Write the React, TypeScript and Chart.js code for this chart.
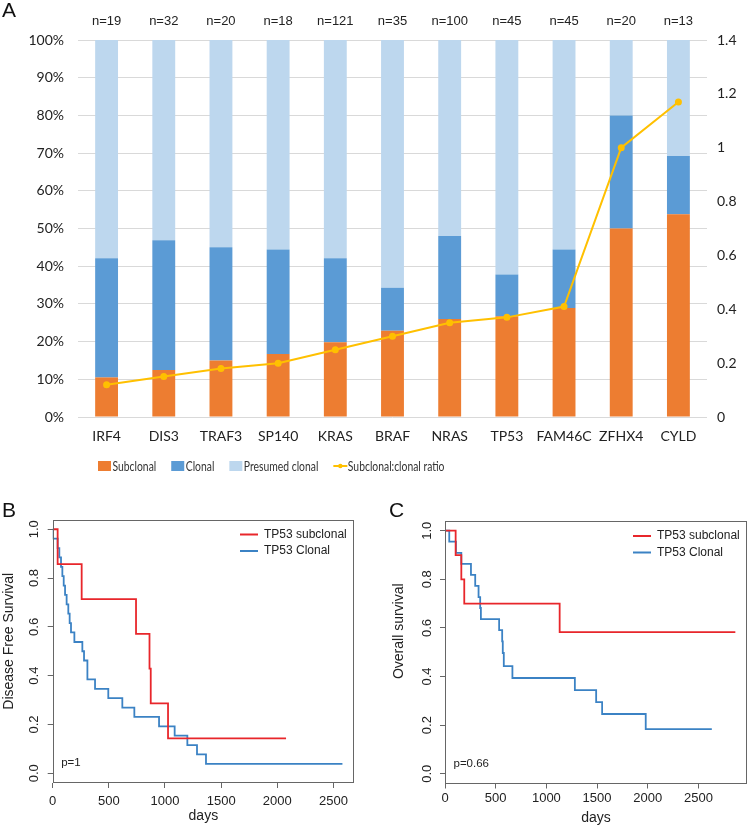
import React, { useEffect, useRef } from 'react';
import { Chart, registerables } from 'chart.js';

Chart.register(...registerables);

// ---------- Panel A data ----------
const genes = ['IRF4', 'DIS3', 'TRAF3', 'SP140', 'KRAS', 'BRAF', 'NRAS', 'TP53', 'FAM46C', 'ZFHX4', 'CYLD'];
const nLabels = ['n=19', 'n=32', 'n=20', 'n=18', 'n=121', 'n=35', 'n=100', 'n=45', 'n=45', 'n=20', 'n=13'];
const subclonalPct = [10.5, 12.5, 15.0, 16.7, 19.8, 22.9, 26.0, 26.7, 28.9, 50.0, 53.8];
const clonalPct = [31.6, 34.4, 30.0, 27.7, 22.3, 11.4, 22.0, 11.1, 15.5, 30.0, 15.4];
const presumedPct = [57.9, 53.1, 55.0, 55.6, 57.9, 65.7, 52.0, 62.2, 55.6, 20.0, 30.8];
const ratioValues = [0.12, 0.15, 0.18, 0.2, 0.25, 0.3, 0.35, 0.37, 0.41, 1.0, 1.17];
const seriesNames = ['Subclonal', 'Clonal', 'Presumed clonal', 'Subclonal:clonal ratio'];

// ---------- Panel B data (disease free survival) ----------
const dfsSubDays = [0, 44, 258, 742, 862, 873, 1027, 2078];
const dfsSubSurv = [1, 0.857, 0.714, 0.571, 0.429, 0.286, 0.143, 0.143];
const dfsClonDays = [0, 3, 44, 59, 74, 86, 98, 110, 124, 139, 151, 163, 193, 264, 279, 309, 377, 495, 620, 727, 947, 1086, 1199, 1285, 1365, 2580];
const dfsClonSurv = [1, 0.962, 0.923, 0.885, 0.846, 0.808, 0.769, 0.731, 0.692, 0.654, 0.615, 0.577, 0.538, 0.5, 0.462, 0.385, 0.346, 0.308, 0.269, 0.231, 0.192, 0.154, 0.115, 0.077, 0.038, 0.038];

// ---------- Panel C data (overall survival) ----------
const osSubDays = [0, 105, 161, 190, 1131, 2864];
const osSubSurv = [1, 0.9, 0.8, 0.7, 0.583, 0.583];
const osClonDays = [0, 42, 108, 161, 256, 298, 331, 347, 354, 534, 564, 570, 580, 665, 1281, 1491, 1550, 1980, 2632];
const osClonSurv = [1, 0.955, 0.909, 0.864, 0.818, 0.773, 0.727, 0.682, 0.636, 0.591, 0.545, 0.497, 0.443, 0.394, 0.344, 0.295, 0.246, 0.184, 0.184];

const kmXTicks = [0, 500, 1000, 1500, 2000, 2500];
const kmYTicks = [0, 0.2, 0.4, 0.6, 0.8, 1.0];
const kmSeriesNames = ['TP53 subclonal', 'TP53 Clonal'];

// ---------- styles ----------
const ORANGE = '#ED7D31';
const BLUE_A = '#5B9BD5';
const LIGHT_BLUE = '#BDD7EE';
const GOLD = '#FFC000';
const KM_RED = '#E8262B';
const KM_BLUE = '#3B82C4';
const AXIS_GRAY = '#666666';
const FONT_A = "Lato, 'Open Sans', sans-serif";
const FONT_R = "'Liberation Sans', Arial, Helvetica, sans-serif";

const legendA = {
  id: 'legendA',
  afterDraw(chart: any, _args: any, opts: any) {
    const { ctx } = chart;
    ctx.save();
    ctx.font = opts.font;
    ctx.textBaseline = 'middle';
    ctx.textAlign = 'left';
    let x = opts.x;
    const y = opts.y;
    chart.data.datasets.forEach((ds: any) => {
      if (ds.type === 'line') {
        ctx.strokeStyle = ds.borderColor;
        ctx.lineWidth = 2;
        ctx.beginPath();
        ctx.moveTo(x, y);
        ctx.lineTo(x + 14, y);
        ctx.stroke();
        ctx.fillStyle = ds.borderColor;
        ctx.beginPath();
        ctx.arc(x + 7, y, 2.2, 0, Math.PI * 2);
        ctx.fill();
      } else {
        ctx.fillStyle = ds.backgroundColor;
        ctx.fillRect(x, y - 5, 13, 10);
      }
      x += 14.5;
      ctx.fillStyle = '#333';
      ctx.save();
      ctx.translate(x, y + 0.5);
      ctx.scale(opts.squeeze, 1);
      ctx.fillText(ds.label, 0, 0);
      ctx.restore();
      x += ctx.measureText(ds.label).width * opts.squeeze + 15;
    });
    ctx.restore();
  },
};

function buildPanelA(): any {
  const axisFont = { family: FONT_A, size: 14 };
  return {
    type: 'bar',
    data: {
      labels: genes,
      datasets: [
        { label: seriesNames[0], data: subclonalPct, backgroundColor: ORANGE, borderWidth: 0, order: 1 },
        { label: seriesNames[1], data: clonalPct, backgroundColor: BLUE_A, borderWidth: 0, order: 1 },
        { label: seriesNames[2], data: presumedPct, backgroundColor: LIGHT_BLUE, borderWidth: 0, order: 1 },
        {
          type: 'line',
          label: seriesNames[3],
          data: ratioValues,
          yAxisID: 'y1',
          borderColor: GOLD,
          backgroundColor: GOLD,
          pointBackgroundColor: GOLD,
          pointBorderColor: GOLD,
          borderWidth: 2,
          pointRadius: 2.5,
          tension: 0,
          order: 0,
        },
      ],
    },
    options: {
      animation: false,
      responsive: false,
      datasets: { bar: { barPercentage: 0.4, categoryPercentage: 1 } },
      layout: { padding: 0 },
      plugins: {
        tooltip: { enabled: false },
        legend: { display: false },
        legendA: { x: 98, y: 466, font: `14px ${FONT_A}`, squeeze: 0.74 },
      },
      scales: {
        x: {
          stacked: true,
          grid: { display: false, drawTicks: false },
          border: { display: false },
          ticks: { color: '#222', font: axisFont, padding: 11, maxRotation: 0, minRotation: 0, autoSkip: false },
          afterFit: (s: any) => { s.height = 73; },
        },
        xTop: {
          type: 'category',
          position: 'top',
          labels: nLabels,
          offset: true,
          grid: { display: false, drawTicks: false },
          border: { display: false },
          ticks: { color: '#222', font: { family: FONT_R, size: 13 }, padding: 11, maxRotation: 0, minRotation: 0, autoSkip: false },
          afterFit: (s: any) => { s.height = 40; },
        },
        y: {
          stacked: true,
          min: 0,
          max: 100,
          ticks: { stepSize: 10, callback: (v: any) => v + '%', color: '#222', font: axisFont, padding: 14 },
          grid: { color: '#D9D9D9', drawTicks: false },
          border: { display: false },
          afterFit: (s: any) => { s.width = 78; },
        },
        y1: {
          position: 'right',
          min: 0,
          max: 1.4,
          ticks: {
            stepSize: 0.2,
            color: '#222',
            font: axisFont,
            padding: 10,
            callback: (v: any) => String(Math.round(Number(v) * 10) / 10),
          },
          grid: { display: false, drawTicks: false },
          border: { display: false },
          afterFit: (s: any) => { s.width = 41; },
        },
      },
    },
    plugins: [legendA],
  };
}

const kmDecor = {
  id: 'kmDecor',
  afterDraw(chart: any, _args: any, opts: any) {
    const { ctx, chartArea: a } = chart;
    ctx.save();
    ctx.strokeStyle = AXIS_GRAY;
    ctx.lineWidth = 1;
    const l = Math.round(a.left) + 0.5;
    const t = Math.round(a.top) + 0.5;
    const r = Math.round(a.right) - 0.5;
    const b = Math.round(a.bottom) - 0.5;
    ctx.strokeRect(l, t, r - l, b - t);
    // legend
    ctx.font = `12px ${FONT_R}`;
    ctx.textBaseline = 'middle';
    ctx.textAlign = 'left';
    chart.data.datasets.forEach((ds: any, i: number) => {
      const y = a.top + opts.legendTop + i * opts.legendGap;
      ctx.strokeStyle = ds.borderColor;
      ctx.lineWidth = 2;
      ctx.beginPath();
      ctx.moveTo(a.right - opts.lineStart, y);
      ctx.lineTo(a.right - opts.lineEnd, y);
      ctx.stroke();
      ctx.fillStyle = '#222';
      ctx.fillText(ds.label, a.right - opts.textStart, y);
    });
    // p value
    ctx.font = `11.5px ${FONT_R}`;
    ctx.fillStyle = '#222';
    ctx.fillText(opts.pText, a.left + opts.pX, a.bottom - opts.pY);
    // y title
    ctx.font = `14px ${FONT_R}`;
    ctx.textAlign = 'center';
    ctx.translate(opts.titleX, (a.top + a.bottom) / 2 + opts.titleShift);
    ctx.rotate(-Math.PI / 2);
    ctx.fillText(opts.yTitle, 0, 0);
    ctx.restore();
  },
};

function buildKM(p: {
  subDays: number[]; subSurv: number[]; clonDays: number[]; clonSurv: number[];
  xMax: number; yTitle: string; pText: string; padLeft: number; padTop: number; padRight: number;
  yWidth: number; xHeight: number; xLabelPad: number; xTitlePad: number; yLabelPad: number;
  titleX: number; titleShift: number;
}): any {
  const pts = (d: number[], s: number[]) => d.map((x, i) => ({ x, y: s[i] }));
  const tickFont = { family: FONT_R, size: 13 };
  return {
    type: 'line',
    data: {
      datasets: [
        { label: kmSeriesNames[0], data: pts(p.subDays, p.subSurv), borderColor: KM_RED, borderWidth: 1.8, stepped: true, pointRadius: 0, fill: false },
        { label: kmSeriesNames[1], data: pts(p.clonDays, p.clonSurv), borderColor: KM_BLUE, borderWidth: 1.8, stepped: true, pointRadius: 0, fill: false },
      ],
    },
    options: {
      animation: false,
      responsive: false,
      layout: { padding: { left: p.padLeft, top: p.padTop, right: p.padRight, bottom: 0 } },
      plugins: {
        legend: { display: false },
        tooltip: { enabled: false },
        kmDecor: {
          legendTop: 15, legendGap: 16.5, lineStart: 114, lineEnd: 96, textStart: 90,
          pText: p.pText, pX: 8.5, pY: 20, yTitle: p.yTitle, titleX: p.titleX, titleShift: p.titleShift,
        },
      },
      scales: {
        x: {
          type: 'linear',
          min: 0,
          max: p.xMax,
          afterBuildTicks: (s: any) => { s.ticks = kmXTicks.map((value) => ({ value })); },
          ticks: { color: '#222', font: tickFont, padding: p.xLabelPad, maxRotation: 0, minRotation: 0, callback: (v: any) => String(v) },
          grid: { display: true, drawOnChartArea: false, drawTicks: true, tickLength: 5, color: AXIS_GRAY },
          border: { display: false },
          title: { display: true, text: 'days', color: '#222', font: { family: FONT_R, size: 14 }, padding: { top: 0, bottom: p.xTitlePad } },
          afterFit: (s: any) => { s.height = p.xHeight; },
        },
        y: {
          type: 'linear',
          min: -0.04,
          max: 1.04,
          afterBuildTicks: (s: any) => { s.ticks = kmYTicks.map((value) => ({ value })); },
          ticks: { color: '#222', font: tickFont, padding: p.yLabelPad, minRotation: 90, maxRotation: 90, crossAlign: 'center', callback: (v: any) => Number(v).toFixed(1) },
          grid: { display: true, drawOnChartArea: false, drawTicks: true, tickLength: 5, color: AXIS_GRAY },
          border: { display: false },
          afterFit: (s: any) => { s.width = p.yWidth; },
        },
      },
    },
    plugins: [kmDecor],
  };
}

function ChartCanvas(props: { width: number; height: number; left: number; top: number; build: () => any }) {
  const ref = useRef<HTMLCanvasElement>(null);
  useEffect(() => {
    const chart = new Chart(ref.current as HTMLCanvasElement, props.build());
    return () => chart.destroy();
  }, []);
  return (
    <canvas
      ref={ref}
      width={props.width}
      height={props.height}
      style={{ position: 'absolute', left: props.left, top: props.top, width: props.width, height: props.height }}
    />
  );
}

const letterStyle = (left: number, top: number): React.CSSProperties => ({
  position: 'absolute', left, top, fontFamily: FONT_R, fontSize: 21, lineHeight: '21px', color: '#111',
});

export default function App() {
  return (
    <div style={{ position: 'absolute', left: 0, top: 0, width: 748, height: 826, background: '#fff', overflow: 'hidden' }}>
      <ChartCanvas width={748} height={490} left={0} top={0} build={buildPanelA} />
      <ChartCanvas
        width={374}
        height={326}
        left={0}
        top={500}
        build={() => buildKM({
          subDays: dfsSubDays, subSurv: dfsSubSurv, clonDays: dfsClonDays, clonSurv: dfsClonSurv,
          xMax: 2683, yTitle: 'Disease Free Survival', pText: 'p=1', padLeft: 0, padTop: 19.5, padRight: 20,
          yWidth: 52.7, xHeight: 43, xLabelPad: 6, xTitlePad: 1, yLabelPad: 4, titleX: 9, titleShift: -10,
        })}
      />
      <ChartCanvas
        width={374}
        height={326}
        left={374}
        top={500}
        build={() => buildKM({
          subDays: osSubDays, subSurv: osSubSurv, clonDays: osClonDays, clonSurv: osClonSurv,
          xMax: 2979, yTitle: 'Overall survival', pText: 'p=0.66', padLeft: 0, padTop: 21, padRight: 1,
          yWidth: 71, xHeight: 42.5, xLabelPad: 2, xTitlePad: -1, yLabelPad: 4, titleX: 25, titleShift: -21,
        })}
      />
      <span style={letterStyle(2, -1)}>A</span>
      <span style={letterStyle(2, 499)}>B</span>
      <span style={letterStyle(389, 499)}>C</span>
    </div>
  );
}
